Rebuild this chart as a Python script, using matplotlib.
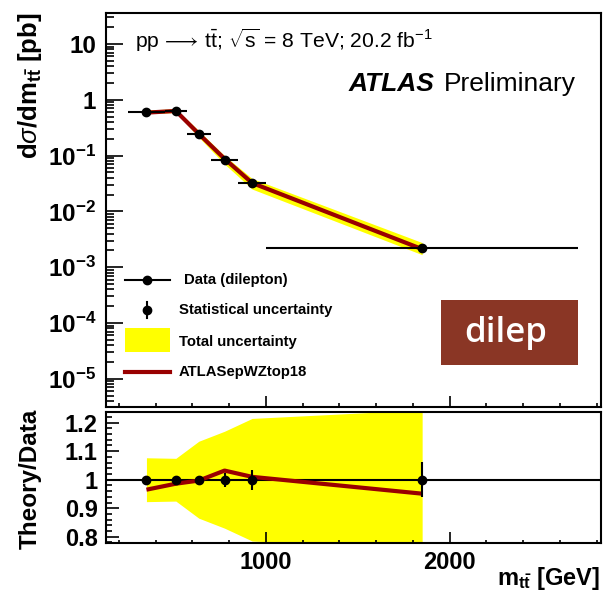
import numpy as np
import matplotlib
matplotlib.use("Agg")
import matplotlib.pyplot as plt
from matplotlib.ticker import FixedLocator, FuncFormatter, MultipleLocator, NullFormatter
from matplotlib.patches import Rectangle
from matplotlib.lines import Line2D

# ---------------- data ----------------
bin_edges = [250, 450, 570, 700, 850, 1000, 2700]
bin_centers = [350, 510, 635, 775, 925, 1850]
data_xsec = [0.61, 0.64, 0.246, 0.085, 0.032, 0.00222]          # pb/GeV
ratio_theory = [0.965, 0.986, 0.997, 1.032, 1.010, 0.951]        # theory / data
rel_total_unc = [0.077, 0.075, 0.135, 0.170, 0.215, 0.245]
rel_stat_unc = [0.005, 0.006, 0.013, 0.024, 0.035, 0.062]
legend_labels = ["Data (dilepton)", "Statistical uncertainty", "Total uncertainty", "ATLASepWZtop18"]

plt.rcParams['font.family'] = ['Liberation Sans', 'DejaVu Sans']
plt.rcParams['mathtext.fontset'] = 'custom'
plt.rcParams['mathtext.rm'] = 'Liberation Sans'
plt.rcParams['mathtext.it'] = 'Liberation Sans:italic'
plt.rcParams['mathtext.bf'] = 'Liberation Sans:bold'

RED = '#990000'
YEL = '#ffff00'

W, H = 604, 594
fig = plt.figure(figsize=(W / 100, H / 100), dpi=100)

def fx(px):
    return px / W

def fy(py):
    return 1 - py / H

L, R = 106, 601
ax1 = fig.add_axes([fx(L), fy(407), fx(R) - fx(L), fy(13) - fy(407)])
ax2 = fig.add_axes([fx(L), fy(543), fx(R) - fx(L), fy(412) - fy(543)])

x = np.array(bin_centers, dtype=float)
d = np.array(data_xsec)
edges = np.array(bin_edges, dtype=float)
xerr = np.vstack([x - edges[:-1], edges[1:] - x])
tot = np.array(rel_total_unc)
stat = np.array(rel_stat_unc)
rat = np.array(ratio_theory)

# ---------------- main panel ----------------
ax1.fill_between(x, d * (1 - tot), d * (1 + tot), color=YEL, lw=0, zorder=1)
ax1.plot(x, d * rat, color=RED, lw=3, zorder=2, solid_capstyle='butt')
ax1.errorbar(x, d, xerr=xerr, yerr=d * stat, fmt='o', color='black', ms=6,
             elinewidth=1.5, capsize=0, zorder=3)
ax1.set_yscale('log')
ax1.set_xlim(130, 2823)
ax1.set_ylim(3.13e-6, 35.9)

def logfmt(v, pos):
    e = int(round(np.log10(v)))
    if e == 1:
        return '10'
    if e == 0:
        return '1'
    return r'$\mathbf{10^{%d}}$' % e

ax1.yaxis.set_major_locator(FixedLocator([10.0 ** e for e in range(-5, 2)]))
ax1.yaxis.set_major_formatter(FuncFormatter(logfmt))
ax1.yaxis.set_minor_locator(FixedLocator([m * 10.0 ** e for e in range(-6, 2) for m in range(2, 10)]))
ax1.yaxis.set_minor_formatter(NullFormatter())
ax1.xaxis.set_major_locator(MultipleLocator(1000))
ax1.xaxis.set_minor_locator(MultipleLocator(200))
ax1.xaxis.set_major_formatter(NullFormatter())
ax1.tick_params(axis='y', which='major', direction='in', length=12.5, width=1.2,
                labelsize=17.5, pad=7, left=True, right=False)
ax1.tick_params(axis='y', which='minor', direction='in', length=6, width=1.2, left=True, right=False)
ax1.tick_params(axis='x', which='major', direction='in', length=8, width=1.2, top=False)
ax1.tick_params(axis='x', which='minor', direction='in', length=3, width=1.2, top=False)
for lab in ax1.get_yticklabels():
    lab.set_fontweight('bold')

# ---------------- ratio panel ----------------
ax2.fill_between(x, 1 - tot, 1 + tot, color=YEL, lw=0, zorder=1)
ax2.axhline(1.0, color='black', lw=1.5, zorder=2)
ax2.plot(x, rat, color=RED, lw=3, zorder=3, solid_capstyle='butt')
ax2.errorbar(x, np.ones_like(x), yerr=stat, fmt='o', color='black', ms=6,
             elinewidth=1.5, capsize=0, zorder=4)
ax2.set_xlim(130, 2823)
ax2.set_ylim(0.778, 1.2375)
ax2.yaxis.set_major_locator(FixedLocator([0.8, 0.9, 1.0, 1.1, 1.2]))
ax2.yaxis.set_major_formatter(FuncFormatter(lambda v, p: ('%g' % round(v, 2))))
ax2.yaxis.set_minor_locator(MultipleLocator(0.02))
ax2.xaxis.set_major_locator(MultipleLocator(1000))
ax2.xaxis.set_minor_locator(MultipleLocator(200))
ax2.xaxis.set_major_formatter(FuncFormatter(lambda v, p: '%d' % v))
ax2.tick_params(axis='y', which='major', direction='in', length=9.5, width=1.2,
                labelsize=17, pad=6, left=True, right=False)
ax2.tick_params(axis='y', which='minor', direction='in', length=4.5, width=1.2, left=True, right=False)
ax2.tick_params(axis='x', which='major', direction='in', length=8, width=1.2,
                labelsize=17, pad=6, top=False)
ax2.tick_params(axis='x', which='minor', direction='in', length=2, width=1.2, top=False)
for lab in ax2.get_yticklabels() + ax2.get_xticklabels():
    lab.set_fontweight('bold')

for a in (ax1, ax2):
    for s in a.spines.values():
        s.set_linewidth(1.5)

# ---------------- labels ----------------
fig.text(fx(30), fy(13), r'd$\sigma$/dm$_{\mathbf{t\bar{t}}}$ [pb]', rotation=90,
         ha='center', va='top', fontsize=18.5, fontweight='bold')
fig.text(fx(30), fy(479), 'Theory/Data', rotation=90, ha='center', va='center',
         fontsize=17.5, fontweight='bold')
fig.text(fx(600), fy(578), r'm$_{\mathbf{t\bar{t}}}$ [GeV]', ha='right', va='center',
         fontsize=17, fontweight='bold')

fig.text(fx(135), fy(40), r'pp$\,\longrightarrow\,$t$\bar{\mathrm{t}}$; $\sqrt{\mathrm{s}}$ = 8 TeV; 20.2 fb$^{-1}$',
         ha='left', va='center', fontsize=15.2)
fig.text(fx(349), fy(84), 'ATLAS', ha='left', va='center', fontsize=19,
         fontweight='bold', fontstyle='italic')
fig.text(fx(444), fy(84), 'Preliminary', ha='left', va='center', fontsize=19)

# dilep box
fig.add_artist(Rectangle((fx(441), fy(365)), fx(578) - fx(441), fy(300) - fy(365),
                         transform=fig.transFigure, facecolor='#8a3625', edgecolor='none', zorder=5))
fig.text(fx(506), fy(333), 'dilep', ha='center', va='center', fontsize=25,
         fontweight='semibold', color='white', family='Open Sans', zorder=6)

# legend
lsize = 10.7
fig.add_artist(Line2D([fx(125), fx(170)], [fy(280), fy(280)], color='black', lw=1.5,
                      transform=fig.transFigure, zorder=5))
fig.add_artist(Line2D([fx(147)], [fy(280)], marker='o', ms=6, color='black',
                      transform=fig.transFigure, zorder=5))
fig.text(fx(184), fy(280), legend_labels[0], ha='left', va='center', fontsize=lsize, fontweight='bold')
fig.add_artist(Line2D([fx(147), fx(147)], [fy(302), fy(318)], color='black', lw=1.5,
                      transform=fig.transFigure, zorder=5))
fig.add_artist(Line2D([fx(147)], [fy(310)], marker='o', ms=6, color='black',
                      transform=fig.transFigure, zorder=5))
fig.text(fx(179), fy(310), legend_labels[1], ha='left', va='center', fontsize=lsize, fontweight='bold')
fig.add_artist(Rectangle((fx(125), fy(352)), fx(170) - fx(125), fy(328) - fy(352),
                         transform=fig.transFigure, facecolor=YEL, edgecolor='none', zorder=5))
fig.text(fx(179), fy(342), legend_labels[2], ha='left', va='center', fontsize=lsize, fontweight='bold')
fig.add_artist(Line2D([fx(125), fx(170)], [fy(372), fy(372)], color=RED, lw=3,
                      transform=fig.transFigure, zorder=5))
fig.text(fx(179), fy(372), legend_labels[3], ha='left', va='center', fontsize=lsize, fontweight='bold')

fig.savefig('out.png', dpi=100, facecolor='white')
